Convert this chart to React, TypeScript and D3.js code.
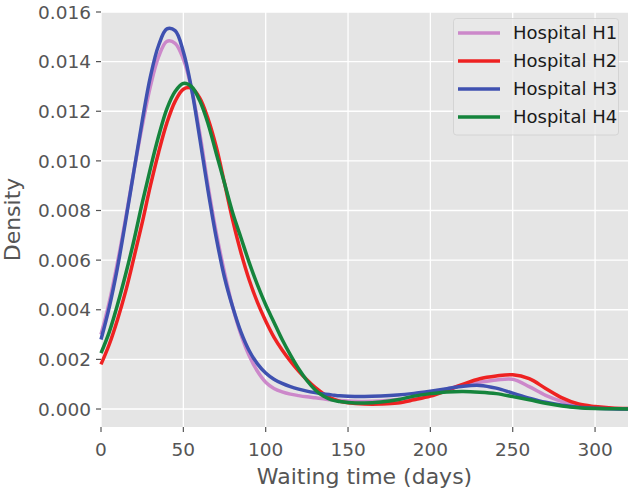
import { line, curveCatmullRom, scaleLinear, format } from "d3";

// waiting time grid (days) on which the densities were read
const waitDays = [
  0, 5, 10, 15, 20, 25, 30, 35, 40, 45, 50, 55, 60, 65, 70, 75, 80, 85, 90, 95,
  100, 105, 110, 115, 120, 125, 130, 135, 140, 145, 150, 160, 170, 180, 190,
  200, 210, 220, 230, 240, 250, 260, 270, 280, 290, 300, 310, 320,
];

const densityH1 = [
  0.003, 0.0043, 0.0059, 0.0077, 0.0096, 0.0114, 0.013, 0.0142, 0.01482, 0.01474,
  0.0141, 0.0129, 0.0111, 0.009, 0.0071, 0.0055, 0.0041, 0.003, 0.00215, 0.00152,
  0.00108, 0.00083, 0.00069, 0.0006, 0.00054, 0.00049, 0.00045, 0.00041, 0.00037,
  0.00034, 0.00032, 0.0003, 0.00032, 0.00038, 0.00048, 0.00063, 0.0008, 0.00097,
  0.00108, 0.00117, 0.0012, 0.0009, 0.00055, 0.0003, 0.00015, 0.00006, 0.00002, 0.00001,
];

const densityH2 = [
  0.0018, 0.0026, 0.0036, 0.00475, 0.0061, 0.0075, 0.009, 0.01035, 0.01153, 0.0124,
  0.01289, 0.01293, 0.01253, 0.0117, 0.01056, 0.0091, 0.0076, 0.0063, 0.0052, 0.0043,
  0.00355, 0.0029, 0.00238, 0.00193, 0.00153, 0.00118, 0.00087, 0.00062, 0.00043, 0.00031,
  0.00025, 0.0002, 0.0002, 0.00024, 0.00037, 0.00052, 0.00075, 0.001, 0.00122,
  0.00133, 0.00138, 0.00122, 0.00083, 0.00045, 0.0002, 0.0001, 0.00004, 0.00002,
];

const densityH3 = [
  0.0028, 0.0041, 0.0057, 0.0076, 0.0096, 0.0116, 0.0134, 0.01466, 0.01532, 0.01525,
  0.0144, 0.0129, 0.0109, 0.0088, 0.0069, 0.0053, 0.0041, 0.0031, 0.00235, 0.00182,
  0.00145, 0.0012, 0.00103, 0.0009, 0.0008, 0.00072, 0.00066, 0.00061, 0.00057,
  0.00053, 0.00051, 0.0005, 0.00052, 0.00056, 0.00063, 0.00072, 0.00082, 0.00092,
  0.00095, 0.00084, 0.00064, 0.00044, 0.00027, 0.00015, 0.00007, 0.00003, 0.00001, 0,
];

const densityH4 = [
  0.00225, 0.0031, 0.0042, 0.00544, 0.0068, 0.0083, 0.0097, 0.011, 0.0121, 0.0128,
  0.01312, 0.01299, 0.01242, 0.0115, 0.0103, 0.0091, 0.0079, 0.0069, 0.0059, 0.005,
  0.0042, 0.0035, 0.0028, 0.00218, 0.00162, 0.00115, 0.00078, 0.00052, 0.00037, 0.0003,
  0.00026, 0.00024, 0.00028, 0.00037, 0.00052, 0.00062, 0.00069, 0.00071, 0.00068,
  0.00062, 0.0005, 0.00037, 0.00023, 0.00012, 0.00005, 0.00002, 0.00001, 0,
];

const hospitals = ["Hospital H1", "Hospital H2", "Hospital H3", "Hospital H4"];
const seriesValues = [densityH1, densityH2, densityH3, densityH4];
const seriesColors = ["#CC88CA", "#EE2222", "#3F51B0", "#15843C"];

const xTicks = [0, 50, 100, 150, 200, 250, 300];
const yTicks = [0, 0.002, 0.004, 0.006, 0.008, 0.01, 0.012, 0.014, 0.016];

export default function App() {
  const width = 630;
  const height = 492;
  const plot = { left: 101, right: 628, top: 12, bottom: 427 };

  const x = scaleLinear().domain([0, 320]).range([plot.left, plot.right]);
  const y = scaleLinear().domain([-0.000725, 0.016]).range([plot.bottom, plot.top]);

  const path = line<number>()
    .x((_, i) => x(waitDays[i]))
    .y(d => y(d))
    .curve(curveCatmullRom.alpha(0.5));

  const fmt = format(".3f");
  const font = "DejaVu Sans, sans-serif";
  const tickColor = "#555555";

  return (
    <svg
      width={width}
      height={height}
      style={{ position: "absolute", left: 0, top: 0, background: "#fff" }}
      fontFamily={font}
    >
      <rect x={plot.left} y={plot.top} width={plot.right - plot.left}
        height={plot.bottom - plot.top} fill="#E5E5E5" />

      {/* grid */}
      {xTicks.map(t => (
        <line key={"gx" + t} x1={x(t)} x2={x(t)} y1={plot.top} y2={plot.bottom}
          stroke="#fff" strokeWidth={1.3} />
      ))}
      {yTicks.map(t => (
        <line key={"gy" + t} x1={plot.left} x2={plot.right} y1={y(t)} y2={y(t)}
          stroke="#fff" strokeWidth={1.3} />
      ))}

      {/* axes ticks and labels */}
      {xTicks.map(t => (
        <g key={"tx" + t}>
          <line x1={x(t)} x2={x(t)} y1={plot.bottom} y2={plot.bottom + 5}
            stroke={tickColor} strokeWidth={1.2} />
          <text x={x(t)} y={456} textAnchor="middle" fontSize={18.5} fill={tickColor}>
            {t}
          </text>
        </g>
      ))}
      {yTicks.map(t => (
        <g key={"ty" + t}>
          <line x1={plot.left - 5} x2={plot.left} y1={y(t)} y2={y(t)}
            stroke={tickColor} strokeWidth={1.2} />
          <text x={91} y={y(t)} dy="0.36em" textAnchor="end" fontSize={18.5} fill={tickColor}>
            {fmt(t)}
          </text>
        </g>
      ))}

      <text x={(plot.left + plot.right) / 2} y={484} textAnchor="middle"
        fontSize={22} fill={tickColor}>
        Waiting time (days)
      </text>
      <text transform={`translate(19.5,${(plot.top + plot.bottom) / 2}) rotate(-90)`}
        textAnchor="middle" fontSize={22} fill={tickColor}>
        Density
      </text>

      {/* density curves */}
      {seriesValues.map((vals, i) => (
        <path key={hospitals[i]} d={path(vals) ?? ""} fill="none"
          stroke={seriesColors[i]} strokeWidth={3.5} strokeLinejoin="round" />
      ))}

      {/* legend */}
      <rect x={453.5} y={18.5} width={165} height={116.5} rx={3}
        fill="#E9E9E9" fillOpacity={0.8} stroke="#D0D0D0" strokeOpacity={0.8} />
      {hospitals.map((name, i) => (
        <g key={"lg" + name} transform={`translate(0,${33 + i * 28})`}>
          <line x1={458} x2={500} y1={0} y2={0} stroke={seriesColors[i]} strokeWidth={3.5} />
          <text x={513} y={0} dy="0.36em" fontSize={18} fill="#1a1a1a">
            {name}
          </text>
        </g>
      ))}
    </svg>
  );
}
